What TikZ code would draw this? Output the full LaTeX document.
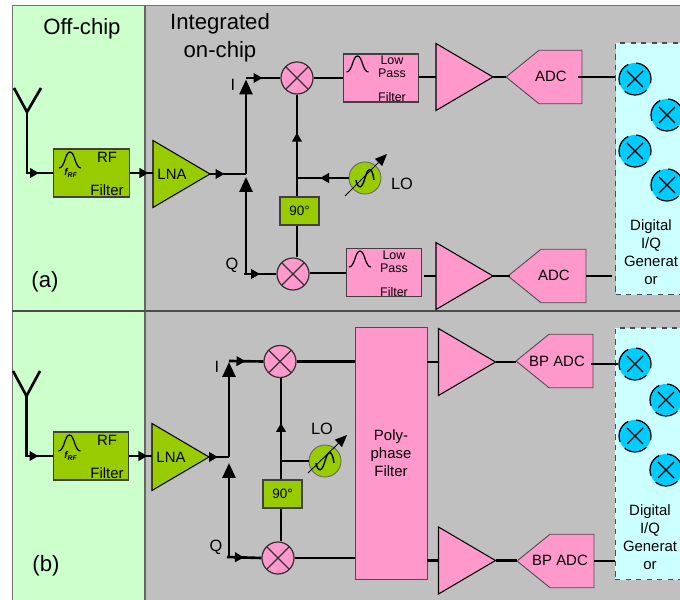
\documentclass[tikz,border=0pt]{standalone}
\usepackage{fontspec}
\setmainfont{Liberation Sans}
\usetikzlibrary{positioning,calc,arrows.meta,shapes.geometric,shapes.symbols,decorations.markings}

\definecolor{offgreen}{HTML}{CCFFCC}
\definecolor{chipgray}{HTML}{C0C0C0}
\definecolor{olivebox}{HTML}{99CC00}
\definecolor{pinkbox}{HTML}{FF99CC}
\definecolor{digcyan}{HTML}{CCFFFF}
\definecolor{digblue}{HTML}{00CCFF}

\tikzset{
  bell/.pic={\draw[line width=0.7pt] (-11,8) .. controls (-5,8) and (-5,-8) .. (0,-8)
    .. controls (5,-8) and (5,8) .. (11,8);},
  wave/.pic={\draw[line width=0.8pt] (-9,2) .. controls (-7,12) and (-3,11) .. (0,0)
    .. controls (3,-11) and (7,-12) .. (9,2);}
}

\begin{document}
\begin{tikzpicture}[
  x=0.2mm, y=-0.2mm,
  wire/.style={line width=1.5pt},
  midarr/.style={postaction={decorate,decoration={markings,
    mark=at position #1 with {\arrow{Triangle[length=1.8mm,width=1.9mm]}}}}},
  bigarr/.style={-{Triangle[length=3mm,width=2.6mm]}},
  tune/.style={line width=0.5pt, -{Triangle[length=2.4mm,width=2mm]}},
  lbl/.style={font=\fontsize{8.5}{10.2}\selectfont, align=center, inner sep=0pt},
  sm/.style={font=\fontsize{7.1}{7.4}\selectfont, align=center, inner sep=0pt},
  big/.style={font=\fontsize{12.6}{15.9}\selectfont, align=center, inner sep=0pt},
  io/.style={font=\fontsize{9.3}{11}\selectfont, inner sep=0pt},
  rfbox/.style={draw=black!75, fill=olivebox, line width=0.7pt, minimum width=15.1mm, minimum height=9.6mm},
  lpf/.style={draw=black!75, fill=pinkbox, line width=0.7pt, minimum width=15.1mm, minimum height=9.6mm},
  quad/.style={draw=black!75, fill=olivebox, line width=0.7pt, inner sep=0pt, minimum width=7.8mm,
    minimum height=5.6mm, font=\fontsize{7.7}{9}\selectfont},
  amp/.style={isosceles triangle, isosceles triangle stretches, draw=black, line width=0.6pt,
    inner sep=0pt, outer sep=0pt, minimum width=13.4mm, minimum height=11.4mm, anchor=apex},
  adc/.style={signal, signal to=west, signal pointer angle=78, draw=black!70, fill=pinkbox, line width=0.5pt,
    inner sep=0pt, outer sep=0pt, minimum width=#1, minimum height=10.7mm, anchor=west},
  mixer/.style={circle, draw=black!80, fill=pinkbox, line width=0.7pt, minimum size=6.4mm, inner sep=0pt,
    path picture={
      \draw[line width=0.7pt] (path picture bounding box.north west) -- (path picture bounding box.south east);
      \draw[line width=0.7pt] (path picture bounding box.north east) -- (path picture bounding box.south west);}},
  dmix/.style={circle, draw=black, fill=digblue, line width=0.7pt, dash pattern=on 4.8mm off 1.6mm,
    minimum size=6.4mm, inner sep=0pt,
    path picture={
      \draw[solid] ($(path picture bounding box.center)+(-8,-8)$) -- ($(path picture bounding box.center)+(8,8)$);
      \draw[solid] ($(path picture bounding box.center)+(8,-8)$) -- ($(path picture bounding box.center)+(-8,8)$);}},
  vco/.style={circle, draw=black!60, fill=olivebox, line width=0.5pt, minimum size=6.4mm, inner sep=0pt},
  digbox/.style={draw=black!70, fill=digcyan, dashed, line width=0.6pt, anchor=north west, minimum width=18mm}
]
\path[use as bounding box, clip] (0,0) rectangle (680,600);

% ---- panels ----
\fill[offgreen] (12.5,5.5) rectangle (145,600);
\fill[chipgray] (145,5.5) rectangle (680,600);
\draw[black!55, line width=0.7pt] (12.5,600) -- (12.5,5.5) -- (680,5.5);
\draw[black!60, line width=0.6pt] (145,5.5) -- (145,600);
\draw[black!70, line width=0.6pt] (12.5,311) -- (680,311);

\node[big] (offchip) at (82,29) {Off-chip};
\node[big] (onchip) at (220,38) {Integrated\\on-chip};
\node[big] (taga) at (45,282) {(a)};
\node[big] (tagb) at (46,566) {(b)};

% ---- (a) front end ----
\coordinate (anta) at (27,112);
\draw[wire] (14,88) -- (anta) -- (41,88);
\node[rfbox] (rffa) at (91.5,173) {};
\pic at (70,160) {bell};
\node[font=\fontsize{5.6}{6}\selectfont\bfseries\itshape, inner sep=0pt] (frfa) at (71,173) {f\textsubscript{RF}};
\node[lbl] (rfta) at (107,174) {RF\\[8.5pt]Filter};
\node[amp, fill=olivebox] (lnaa) at (210,174) {};
\node[lbl] (lnata) at (172,174) {LNA};
\coordinate (splita) at (246,174);
\coordinate (topa) at (246,78);
\coordinate (bota) at (246,274);

\node[mixer] (mixia) at (297,78) {};
\node[mixer] (mixqa) at (293,274) {};
\node[quad] (quada) at (299.5,211) {90°};
\node[vco] (loa) at (365,178) {};
\pic at (365,178) {wave};
\draw[tune] (345,196) -- (387,154);
\node[io] (lota) at (402,184) {LO};
\node[io] (ita) at (233,85) {I};
\node[io] (qta) at (232,265) {Q};
\coordinate (lojoina) at (mixia |- loa);

\draw[wire, midarr=14.6mm] (anta) |- (rffa.west);
\draw[wire, midarr=-0.9mm] (rffa.east) -- (rffa.east -| lnaa.west);
\draw[wire, midarr=2.9mm] (lnaa.east) -- (splita);
\draw[wire, bigarr, shorten >=0.3mm] (splita) -- (topa);
\draw[wire, bigarr, shorten >=0.6mm] (bota) -- (splita);
\draw[wire, midarr=3.3mm] (topa) -- (mixia.west);
\draw[wire, midarr=3.2mm] ([xshift=-0.4mm]bota) -- (mixqa.west);
\draw[wire, midarr=-7.6mm] (lojoina) -- (mixia.south);
\draw[wire] (lojoina) -- (lojoina |- quada.north);
\draw[wire] (lojoina |- quada.south) -- (lojoina |- mixqa.north);
\draw[wire, midarr=-4.6mm] (loa.west) -- (lojoina);

% ---- (a) I and Q paths ----
\node[lpf] (lpfia) at (381,78) {};
\pic at (357.5,64) {bell};
\node[sm] (lpfita) at (392,78.5) {Low\\Pass\\[6.2pt]Filter};
\node[amp, fill=pinkbox] (ampia) at (493,77) {};
\node[adc=15.2mm] (adcia) at (506,77) {};
\node[lbl] (adcita) at (551,76) {ADC};
\node[lpf] (lpfqa) at (384,272.5) {};
\pic at (360,259) {bell};
\node[sm] (lpfqta) at (394,273.5) {Low\\Pass\\[6.2pt]Filter};
\node[amp, fill=pinkbox] (ampqa) at (493,276) {};
\node[adc=15.6mm] (adcqa) at (508,276) {};
\node[lbl] (adcqta) at (554,275) {ADC};

\draw[wire] (mixia.east) -- (mixia.east -| lpfia.west);
\draw[wire] (ampia.west -| lpfia.east) -- (ampia.west);
\draw[wire] (ampia.east) -- (adcia.west);
\draw[wire] ([yshift=0.2mm]mixqa.east) -- ([yshift=0.2mm]mixqa.east -| lpfqa.west);
\draw[wire] ([xshift=0.4mm]ampqa.west -| lpfqa.east) -- (ampqa.west);
\draw[wire] (ampqa.east) -- ([xshift=0.4mm]adcqa.west);

% ---- (a) digital ----
\node[digbox, minimum height=50.3mm] (diga) at (615,42.5) {};
\node[dmix] (da1) at (635,79) {};
\node[dmix] (da2) at (667,115) {};
\node[dmix] (da3) at (635,151) {};
\node[dmix] (da4) at (667,185) {};
\node[lbl] (digta) at (651,252) {Digital\\I/Q\\Generat\\or};
\draw[wire] ([xshift=-0.8mm]adcia.east) -- (diga.west |- adcia.east);
\draw[wire, shorten >=0.6mm] (adcqa.east) -- (diga.west |- adcqa.east);

% ---- (b) front end ----
\coordinate (antb) at (26.5,396);
\draw[wire] (13,371) -- (antb) -- (40,371);
\node[rfbox] (rffb) at (91,456) {};
\pic at (69.5,443) {bell};
\node[font=\fontsize{5.6}{6}\selectfont\bfseries\itshape, inner sep=0pt] (frfb) at (71,456) {f\textsubscript{RF}};
\node[lbl] (rftb) at (107,457) {RF\\[8.5pt]Filter};
\node[amp, fill=olivebox] (lnab) at (209,457) {};
\node[lbl] (lnatb) at (171,457) {LNA};
\coordinate (splitb) at (229,457);
\coordinate (topb) at (229,361);
\coordinate (botb) at (229,557);

\node[mixer] (mixib) at (280,361.5) {};
\node[mixer] (mixqb) at (278,558) {};
\node[quad] (quadb) at (282.5,494) {90°};
\node[vco] (lob) at (325,461) {};
\pic at (325,461) {wave};
\draw[tune] (308,473) -- (347,435);
\node[io] (lotb) at (322,429) {LO};
\node[io] (itb) at (217,367) {I};
\node[io] (qtb) at (216,547) {Q};
\coordinate (lojoinb) at (281,461);

\draw[wire, midarr=14.4mm] (antb) |- (rffb.west);
\draw[wire, midarr=-0.9mm] (rffb.east) -- (rffb.east -| lnab.west);
\draw[wire, midarr=1.8mm] (lnab.east) -- (splitb);
\draw[wire, bigarr, shorten >=0.2mm] (splitb) -- (topb);
\draw[wire, bigarr, shorten >=1.2mm] (botb) -- (splitb);
\draw[wire, midarr=3.3mm] (topb) -- (mixib.west);
\draw[wire, midarr=3.4mm] ([xshift=-0.4mm]botb) -- (mixqb.west);
\draw[wire, midarr=7.6mm] (lojoinb) -- (lojoinb |- mixib.south);
\draw[wire] (lojoinb) -- (lojoinb |- quadb.north);
\draw[wire] (lojoinb |- quadb.south) -- (lojoinb |- mixqb.north);
\draw[wire] (lob.west) -- (lojoinb);

% ---- (b) polyphase and paths ----
\node[draw=black!70, fill=pinkbox, line width=0.5pt, minimum width=14.4mm, minimum height=50.3mm] (poly) at (391,453.5) {};
\node[lbl] (polyt) at (391,453) {Poly-\\phase\\Filter};
\node[amp, fill=pinkbox] (ampib) at (495.5,362) {};
\node[adc=15.4mm] (adcib) at (516,361) {};
\node[lbl] (adcitb) at (557,361) {BP ADC};
\node[amp, fill=pinkbox] (ampqb) at (495.5,560.5) {};
\node[adc=15.4mm] (adcqb) at (517,561) {};
\node[lbl] (adcqtb) at (560,560) {BP ADC};

\draw[wire] (mixib.east) -- (mixib.east -| poly.west);
\draw[wire] (mixqb.east) -- (mixqb.east -| poly.west);
\draw[wire] (ampib.west -| poly.east) -- (ampib.west);
\draw[wire] (ampqb.west -| poly.east) -- (ampqb.west);
\draw[wire] (ampib.east) -- (ampib.east -| adcib.west);
\draw[wire] (ampqb.east) -- (ampqb.east -| adcqb.west);

% ---- (b) digital ----
\node[digbox, minimum height=50.3mm] (digb) at (614.5,327.5) {};
\node[dmix] (db1) at (635,364) {};
\node[dmix] (db2) at (666,400) {};
\node[dmix] (db3) at (635,436) {};
\node[dmix] (db4) at (666,470) {};
\node[lbl] (digtb) at (650,537) {Digital\\I/Q\\Generat\\or};
\draw[wire] ([xshift=-0.4mm]adcib.east |- db1.west) -- (db1.west);
\draw[wire] (adcqb.east) -- (digb.west |- adcqb.east);
\end{tikzpicture}
\end{document}
